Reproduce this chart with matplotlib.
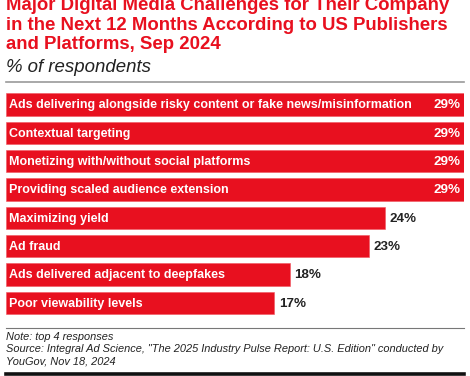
import matplotlib
matplotlib.use("Agg")
import matplotlib.pyplot as plt

# data
categories = [
    "Ads delivering alongside risky content or fake news/misinformation",
    "Contextual targeting",
    "Monetizing with/without social platforms",
    "Providing scaled audience extension",
    "Maximizing yield",
    "Ad fraud",
    "Ads delivered adjacent to deepfakes",
    "Poor viewability levels",
]
values = [29, 29, 29, 29, 24, 23, 18, 17]

title_lines = [
    "Major Digital Media Challenges for Their Company",
    "in the Next 12 Months According to US Publishers",
    "and Platforms, Sep 2024",
]
subtitle = "% of respondents"
note_lines = [
    "Note: top 4 responses",
    "Source: Integral Ad Science, \"The 2025 Industry Pulse Report: U.S. Edition\" conducted by",
    "YouGov, Nov 18, 2024",
]

RED = "#e8101f"
W, H = 470, 376
FONT = "Liberation Sans"


def fx(px):
    return px / W


def fy(py):
    return 1 - py / H


fig = plt.figure(figsize=(W / 100, H / 100), dpi=100)

# title
for i, line in enumerate(title_lines):
    fig.text(fx(6), fy(10.5 + i * 19.4), line, color=RED, fontsize=13.4,
             fontweight="bold", family=FONT, va="baseline", ha="left")
fig.text(fx(6), fy(72), subtitle, color="#222222", fontsize=13.4,
         style="italic", family=FONT, va="baseline", ha="left")

# separator lines
fig.add_artist(plt.Line2D([fx(6), fx(464)], [fy(81.5), fy(81.5)],
                          color="#9a9a9a", lw=1.2))
fig.add_artist(plt.Line2D([fx(6), fx(464)], [fy(327.5), fy(327.5)],
                          color="#777777", lw=0.8))
fig.add_artist(plt.Line2D([fx(6), fx(464)], [fy(373.5), fy(373.5)],
                          color="#111111", lw=2.6))

# bars
top_px, bot_px = 90.3, 317.0
ax = fig.add_axes([fx(6), fy(bot_px), fx(458), (bot_px - top_px) / H])
ypos = list(range(len(categories)))
ax.barh(ypos, values, height=0.78, color=RED, edgecolor="#f05560", linewidth=0.4)
ax.set_xlim(0, 29)
ax.set_ylim(len(categories) - 0.5, -0.5)
ax.axis("off")

for y, cat, v in zip(ypos, categories, values):
    ax.text(0.2, y + 0.03, cat, color="white", fontsize=9.0, fontweight="bold",
            family=FONT, va="center", ha="left")
    if v >= 29:
        ax.text(v - 0.2, y + 0.03, f"{v}%", color="white", fontsize=9.6,
                fontweight="bold", family=FONT, va="center", ha="right")
    else:
        ax.text(v + 0.27, y + 0.03, f"{v}%", color="#222222", fontsize=9.6,
                fontweight="bold", family=FONT, va="center", ha="left")

# notes
for i, line in enumerate(note_lines):
    fig.text(fx(6), fy(340 + i * 12), line, color="#222222", fontsize=7.95,
             style="italic", family=FONT, va="baseline", ha="left")

fig.savefig("out.png", dpi=100)
